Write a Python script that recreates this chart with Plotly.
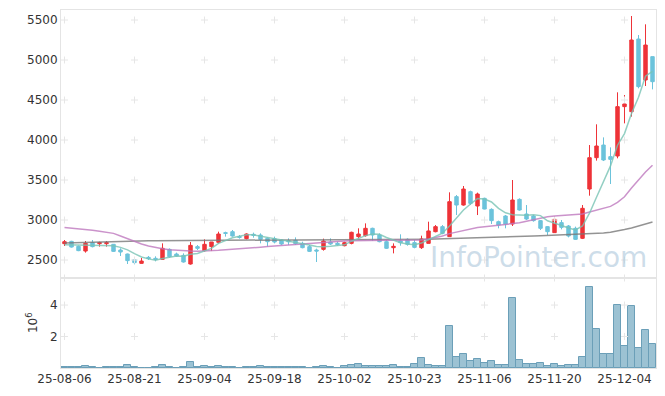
import plotly.graph_objects as go
from plotly.subplots import make_subplots

dates = ["25-08-06","25-08-07","25-08-08","25-08-11","25-08-12","25-08-13","25-08-14","25-08-18","25-08-19","25-08-20",
         "25-08-21","25-08-22","25-08-25","25-08-26","25-08-27","25-08-28","25-08-29","25-09-01","25-09-02","25-09-03",
         "25-09-04","25-09-05","25-09-08","25-09-09","25-09-10","25-09-11","25-09-12","25-09-15","25-09-16","25-09-17",
         "25-09-18","25-09-19","25-09-22","25-09-23","25-09-24","25-09-25","25-09-26","25-09-29","25-09-30","25-10-01",
         "25-10-02","25-10-10","25-10-13","25-10-14","25-10-15","25-10-16","25-10-17","25-10-20","25-10-21","25-10-22",
         "25-10-23","25-10-24","25-10-27","25-10-28","25-10-29","25-10-30","25-10-31","25-11-03","25-11-04","25-11-05",
         "25-11-06","25-11-07","25-11-10","25-11-11","25-11-12","25-11-13","25-11-14","25-11-17","25-11-18","25-11-19",
         "25-11-20","25-11-21","25-11-24","25-11-25","25-11-26","25-11-27","25-11-28","25-12-01","25-12-02","25-12-03",
         "25-12-04","25-12-05","25-12-08","25-12-09","25-12-10"]

open_ = [2704,2733,2671,2612,2717,2704,2704,2696,2625,2575,
         2504,2458,2533,2521,2508,2633,2575,2558,2450,2667,
         2617,2667,2721,2842,2854,2792,2767,2821,2812,2771,
         2767,2750,2742,2746,2708,2667,2625,2633,2725,2708,
         2679,2708,2792,2804,2896,2812,2729,2654,2738,2758,
         2717,2654,2708,2854,2917,2792,3292,3187,3354,3175,
         3271,3133,2979,3050,2950,3258,3075,3050,2992,2917,
         2842,2967,2925,2896,2771,3387,3779,3937,3792,3800,
         4417,4354,5262,4750,5042]
high = [2750,2740,2680,2737,2750,2729,2737,2700,2646,2580,
        2530,2525,2550,2546,2708,2646,2592,2583,2725,2687,
        2758,2725,2854,2854,2875,2812,2833,2842,2833,2783,
        2792,2758,2771,2783,2729,2688,2642,2767,2771,2729,
        2729,2854,2896,2958,2904,2833,2750,2708,2821,2771,
        2750,2804,2979,2937,2937,3346,3312,3425,3367,3342,
        3279,3146,2992,3062,3500,3271,3187,3062,3000,2925,
        3042,3000,2937,2917,3187,3937,4196,4033,3908,4596,
        4562,5550,5312,5446,5042]
low = [2675,2655,2610,2592,2658,2667,2667,2600,2550,2450,
       2446,2455,2500,2483,2505,2529,2542,2467,2442,2625,
       2604,2612,2708,2792,2792,2767,2758,2779,2708,2667,
       2708,2688,2688,2688,2646,2600,2475,2617,2688,2679,
       2671,2696,2771,2792,2738,2721,2638,2583,2679,2679,
       2646,2638,2708,2846,2821,2792,3062,3179,3187,3062,
       3133,2950,2896,2896,2925,3117,3000,2979,2875,2812,
       2842,2883,2783,2750,2762,3304,3742,3737,3450,3771,
       4208,4292,4646,4675,4633]
close = [2729,2662,2617,2708,2667,2717,2717,2608,2600,2492,
         2467,2487,2517,2508,2646,2542,2550,2475,2683,2646,
         2696,2725,2825,2833,2800,2783,2825,2808,2758,2729,
         2725,2700,2729,2704,2654,2608,2612,2737,2700,2692,
         2717,2846,2825,2896,2812,2729,2646,2671,2717,2696,
         2658,2763,2863,2917,2833,3229,3187,3387,3208,3325,
         3137,2992,2937,2950,3250,3125,3012,2992,2896,2854,
         3008,2908,2800,2758,3146,3779,3925,3750,3758,4417,
         4450,5250,4667,5187,4729]

ma_short = [2690,2688,2685,2683,2680,2678,2680,2677,2658,2626,
            2580,2538,2514,2497,2518,2537,2551,2548,2573,2582,
            2611,2645,2708,2745,2778,2797,2815,2815,2800,2783,
            2770,2750,2735,2722,2705,2688,2670,2665,2672,2682,
            2690,2735,2768,2805,2826,2822,2782,2746,2715,2700,
            2692,2712,2752,2795,2835,2925,3020,3125,3200,3268,
            3262,3225,3145,3090,3066,3060,3060,3065,3055,2990,
            2956,2932,2900,2875,2925,3085,3285,3476,3676,3935,
            4080,4332,4535,4797,4858]
ma_mid = [2905,2898,2890,2882,2872,2860,2848,2833,2800,2765,
          2730,2700,2675,2655,2640,2628,2620,2615,2612,2610,
          2612,2618,2622,2628,2633,2640,2645,2652,2660,2668,
          2675,2683,2690,2697,2705,2712,2718,2725,2730,2735,
          2738,2742,2745,2748,2750,2750,2748,2746,2745,2744,
          2745,2750,2762,2780,2800,2830,2850,2870,2890,2905,
          2915,2925,2932,2940,2950,2965,2985,3005,3025,3040,
          3050,3055,3058,3062,3075,3100,3125,3145,3170,3220,
          3290,3400,3500,3600,3685]
ma_long = [2712,2715,2718,2721,2724,2727,2730,2732,2734,2736,
           2738,2739,2740,2741,2742,2743,2744,2745,2745,2746,
           2746,2747,2747,2748,2748,2748,2749,2749,2749,2750,
           2750,2750,2751,2751,2751,2752,2752,2752,2753,2753,
           2753,2754,2754,2755,2755,2756,2756,2757,2757,2758,
           2758,2759,2760,2762,2764,2766,2768,2770,2773,2775,
           2778,2781,2784,2787,2790,2793,2796,2799,2802,2805,
           2808,2811,2814,2817,2820,2824,2830,2838,2848,2862,
           2880,2900,2922,2948,2975]

volume_m = [0.06,0.05,0.05,0.13,0.05,0,0.05,0.05,0.05,0.2,
            0.05,0,0,0.06,0.2,0.06,0,0.05,0.35,0.06,
            0.13,0.06,0.13,0.06,0.06,0,0.06,0.05,0.12,0.05,
            0.05,0.05,0.05,0.05,0.05,0,0.06,0.12,0.06,0,
            0.1,0.21,0.28,0.15,0.15,0.15,0.15,0.21,0.09,0.09,
            0.28,0.65,0.21,0.15,0.12,2.69,0.72,0.91,0.42,0.59,
            0.34,0.42,0.21,0.21,4.44,0.49,0.28,0.28,0.34,0.15,
            0.28,0.15,0.21,0.21,0.72,5.15,2.48,0.91,0.91,4.0,
            1.41,3.94,1.29,2.42,1.50]

tick_idx = list(range(0, 85, 10))
tick_labels = [dates[i] for i in tick_idx]
price_ticks = [2500, 3000, 3500, 4000, 4500, 5000, 5500]
vol_ticks = [2, 4]

UP = "#ee3338"
DOWN = "#6cc3db"
FONT = "DejaVu Sans"
GRIDMARK = "#e6e6e6"
FRAME = "#e4e4e4"

fig = make_subplots(rows=2, cols=1, shared_xaxes=True, vertical_spacing=0,
                    row_heights=[268, 90])

# grid "+" marks
gx, gy = [], []
for i in tick_idx:
    for p in price_ticks:
        gx.append(dates[i]); gy.append(p)
fig.add_trace(go.Scatter(x=gx, y=gy, mode="markers", hoverinfo="skip", showlegend=False,
                         marker=dict(symbol="cross-thin", size=5, line=dict(color=GRIDMARK, width=1))),
              row=1, col=1)
vx, vy = [], []
for i in tick_idx:
    for v in vol_ticks + [5.72]:
        vx.append(dates[i]); vy.append(v)
fig.add_trace(go.Scatter(x=vx, y=vy, mode="markers", hoverinfo="skip", showlegend=False, cliponaxis=False,
                         marker=dict(symbol="cross-thin", size=5, line=dict(color=GRIDMARK, width=1))),
              row=2, col=1)

fig.add_trace(go.Candlestick(x=dates, open=open_, high=high, low=low, close=close,
                             increasing=dict(line=dict(color=UP, width=1), fillcolor=UP),
                             decreasing=dict(line=dict(color=DOWN, width=1), fillcolor=DOWN),
                             whiskerwidth=0, showlegend=False), row=1, col=1)

fig.add_trace(go.Scatter(x=dates, y=ma_long, mode="lines", line=dict(color="rgba(120,120,120,0.8)", width=1.5),
                         showlegend=False), row=1, col=1)
fig.add_trace(go.Scatter(x=dates, y=ma_mid, mode="lines", line=dict(color="rgba(190,120,190,0.8)", width=1.5),
                         showlegend=False), row=1, col=1)
fig.add_trace(go.Scatter(x=dates, y=ma_short, mode="lines", line=dict(color="rgba(120,195,180,0.8)", width=1.5),
                         showlegend=False), row=1, col=1)

fig.add_trace(go.Bar(x=dates, y=volume_m, marker=dict(color="#9cc2d3", line=dict(color="#6b9fb8", width=1)),
                     showlegend=False), row=2, col=1)

fig.add_annotation(text="InfoPointer.com", xref="paper", yref="paper", x=0.803, y=0.31,
                   xanchor="center", yanchor="middle", showarrow=False,
                   font=dict(family=FONT, size=28, color="rgba(172,198,218,0.6)"))
fig.add_annotation(text="10<sup>6</sup>", xref="paper", yref="paper", x=-0.049, y=0.128,
                   xanchor="center", yanchor="middle", showarrow=False, textangle=-90,
                   font=dict(family=FONT, size=12, color="#333"))

axis_common = dict(showline=True, linecolor=FRAME, linewidth=1, mirror=True, showgrid=False,
                   zeroline=False, ticks="", automargin=False,
                   tickfont=dict(family=FONT, size=12, color="#333"))

fig.update_xaxes(type="category", categoryorder="array", categoryarray=dates,
                 range=[-0.5, 84.5], tickvals=tick_labels, ticktext=tick_labels,
                 rangeslider=dict(visible=False), **axis_common)
fig.update_xaxes(showticklabels=False, row=1, col=1)
fig.update_yaxes(range=[2275, 5625], tickvals=price_ticks, row=1, col=1, **axis_common)
fig.update_yaxes(range=[0, 5.72], tickvals=vol_ticks, row=2, col=1, **axis_common)

# the page body adds an 8px offset, so the figure is sized to fill the window exactly
fig.update_layout(width=657, height=388, margin=dict(l=53, r=9, t=2, b=28, autoexpand=False),
                  paper_bgcolor="white", plot_bgcolor="white", bargap=0,
                  font=dict(family=FONT, size=12, color="#333"), hovermode=False)

fig.write_html("out.html")
